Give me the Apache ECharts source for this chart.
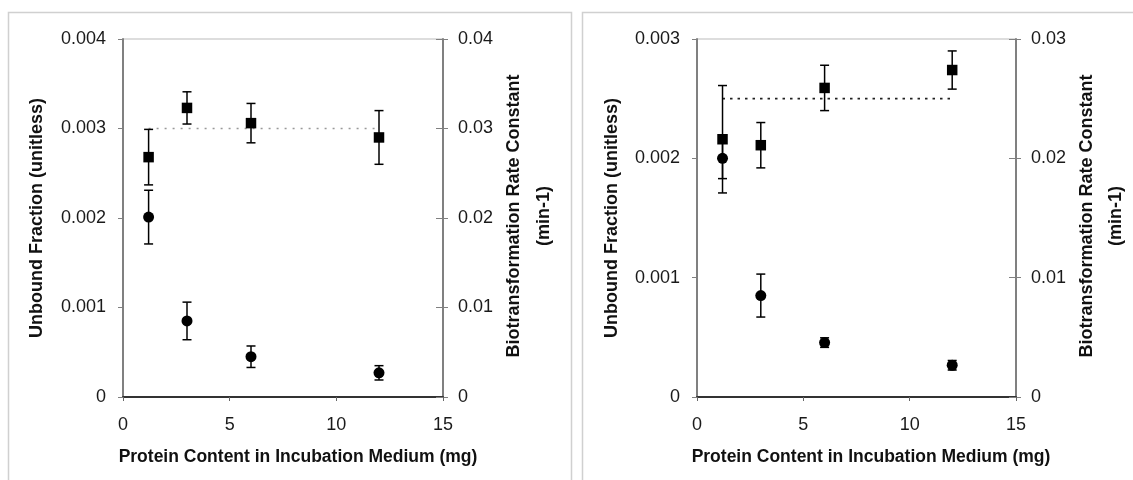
<!DOCTYPE html>
<html>
<head>
<meta charset="utf-8">
<script src="https://cdn.jsdelivr.net/npm/echarts@6/dist/echarts.min.js"></script>
<style>
  html, body { margin: 0; padding: 0; background: #fff; }
  #chart { width: 1133px; height: 480px; }
</style>
</head>
<body>
<div id="chart"></div>
<script>
// protein amounts (mg) shared by both panels
const protein = [1.2, 3, 6, 12];
const xTicks = [0, 15, 5];

// left panel
const leftFraction = [0.00201, 0.00085, 0.00045, 0.00027];
const leftFractionErr = [0.0003, 0.00021, 0.00012, 0.00008];
const leftRate = [0.0268, 0.0323, 0.0306, 0.029];
const leftRateErr = [0.0031, 0.0018, 0.0022, 0.003];
const leftRateMean = 0.03;

// right panel
const rightFraction = [0.002, 0.00085, 0.000456, 0.000266];
const rightFractionErr = [0.00017, 0.00018, 0.00004, 0.00004];
const rightRate = [0.0216, 0.0211, 0.0259, 0.0274];
const rightRateErr = [0.0045, 0.0019, 0.0019, 0.0016];
const rightRateMean = 0.025;

const fontFamily = '"Liberation Sans", Arial, sans-serif';
const textColor = '#1a1a1a';

const grids = [
    { left: 123, width: 320, top: 39, height: 358 },
    { left: 697, width: 319, top: 39, height: 358 }
];

function pairs(xs, ys) {
    return xs.map((x, i) => [x, ys[i]]);
}

function bars(xs, ys, errs) {
    return xs.map((x, i) => [x, ys[i] - errs[i], ys[i] + errs[i]]);
}

// vertical error bar with caps
function errorBarItem(params, api) {
    const x = api.value(0);
    const lo = api.coord([x, api.value(1)]);
    const hi = api.coord([x, api.value(2)]);
    const half = 4.5;
    const style = { stroke: '#000', lineWidth: 1.5 };
    return {
        type: 'group',
        children: [
            { type: 'line', shape: { x1: lo[0], y1: lo[1], x2: hi[0], y2: hi[1] }, style: style },
            { type: 'line', shape: { x1: lo[0] - half, y1: lo[1], x2: lo[0] + half, y2: lo[1] }, style: style },
            { type: 'line', shape: { x1: hi[0] - half, y1: hi[1], x2: hi[0] + half, y2: hi[1] }, style: style }
        ]
    };
}

function xAxisFor(gridIndex) {
    return {
        type: 'value', gridIndex: gridIndex,
        min: xTicks[0], max: xTicks[1], interval: xTicks[2],
        splitLine: { show: false },
        axisLine: { onZero: false, lineStyle: { color: '#333', width: 2 } },
        axisTick: { length: 4, lineStyle: { color: '#666', width: 1 } },
        axisLabel: { margin: 19, fontSize: 18, color: textColor, fontFamily: fontFamily }
    };
}

function leftAxisFor(gridIndex, max) {
    return {
        type: 'value', gridIndex: gridIndex, position: 'left',
        min: 0, max: max, interval: 0.001,
        splitLine: { show: false },
        axisLine: { show: true, lineStyle: { color: '#808080', width: 2 } },
        axisTick: { length: 5, lineStyle: { color: '#808080', width: 1 } },
        axisLabel: { margin: 17, fontSize: 18, color: textColor, fontFamily: fontFamily,
            formatter: v => v === 0 ? '0' : v.toFixed(3) }
    };
}

function rightAxisFor(gridIndex, max, inner) {
    return {
        type: 'value', gridIndex: gridIndex, position: 'right',
        min: 0, max: max, interval: 0.01,
        splitLine: { show: false },
        axisLine: { show: !inner, lineStyle: { color: '#808080', width: 2 } },
        axisTick: { inside: inner, length: inner ? 7 : 5, lineStyle: { color: '#808080', width: 1 } },
        axisLabel: { show: !inner, margin: 15, fontSize: 18, color: textColor, fontFamily: fontFamily,
            formatter: v => v === 0 ? '0' : v.toFixed(2) }
    };
}

function panelSeries(xIdx, yLeft, yRight, fraction, fractionErr, rate, rateErr, mean, dotColor, dash) {
    return [
        {
            type: 'line', xAxisIndex: xIdx, yAxisIndex: yRight, z: 1,
            data: [[protein[0], mean], [protein[protein.length - 1], mean]],
            symbol: 'none', silent: true,
            lineStyle: { color: dotColor, width: 1.6, type: dash, cap: 'butt' }
        },
        {
            type: 'custom', xAxisIndex: xIdx, yAxisIndex: yLeft, z: 2,
            renderItem: errorBarItem, encode: { x: 0, y: [1, 2] },
            data: bars(protein, fraction, fractionErr)
        },
        {
            type: 'custom', xAxisIndex: xIdx, yAxisIndex: yRight, z: 2,
            renderItem: errorBarItem, encode: { x: 0, y: [1, 2] },
            data: bars(protein, rate, rateErr)
        },
        {
            type: 'scatter', xAxisIndex: xIdx, yAxisIndex: yLeft, z: 3,
            symbol: 'circle', symbolSize: 11,
            itemStyle: { color: '#000', opacity: 1 },
            data: pairs(protein, fraction)
        },
        {
            type: 'scatter', xAxisIndex: xIdx, yAxisIndex: yRight, z: 3,
            symbol: 'rect', symbolSize: 10.5,
            itemStyle: { color: '#000', opacity: 1 },
            data: pairs(protein, rate)
        }
    ];
}

function titleText(x, y, text, rotated, size) {
    return {
        type: 'text', x: x, y: y, rotation: rotated ? Math.PI / 2 : 0,
        style: {
            text: text, fill: '#111', align: 'center', verticalAlign: 'middle',
            font: 'bold ' + size + 'px ' + fontFamily
        }
    };
}

const chart = echarts.init(document.getElementById('chart'));

const option = {
    animation: false,
    backgroundColor: '#fff',
    grid: grids.map(g => Object.assign({ show: true, borderColor: '#bbb', borderWidth: 1 }, g)),
    xAxis: [xAxisFor(0), xAxisFor(1)],
    yAxis: [
        leftAxisFor(0, 0.004), rightAxisFor(0, 0.04, false), rightAxisFor(0, 0.04, true),
        leftAxisFor(1, 0.003), rightAxisFor(1, 0.03, false), rightAxisFor(1, 0.03, true)
    ],
    series: [].concat(
        panelSeries(0, 0, 1, leftFraction, leftFractionErr, leftRate, leftRateErr, leftRateMean, '#999', [2, 6]),
        panelSeries(1, 3, 4, rightFraction, rightFractionErr, rightRate, rightRateErr, rightRateMean, '#222', [2.5, 5])
    ),
    graphic: [
        // panel frames
        { type: 'rect', shape: { x: 8.5, y: 12.5, width: 563, height: 500 }, style: { fill: null, stroke: '#d0d0d0', lineWidth: 1.5 }, z: -1 },
        { type: 'rect', shape: { x: 582.5, y: 12.5, width: 600, height: 500 }, style: { fill: null, stroke: '#d0d0d0', lineWidth: 1.5 }, z: -1 },
        // left panel titles
        titleText(37, 218, 'Unbound Fraction (unitless)', true, 18),
        titleText(514, 216, 'Biotransformation Rate Constant', true, 18),
        titleText(544, 216, '(min-1)', true, 18),
        titleText(298, 457, 'Protein Content in Incubation Medium (mg)', false, 17.5),
        // right panel titles
        titleText(612, 218, 'Unbound Fraction (unitless)', true, 18),
        titleText(1087, 216, 'Biotransformation Rate Constant', true, 18),
        titleText(1116, 216, '(min-1)', true, 18),
        titleText(871, 457, 'Protein Content in Incubation Medium (mg)', false, 17.5)
    ]
};

chart.setOption(option);
window.addEventListener('resize', chart.resize);
</script>
</body>
</html>
